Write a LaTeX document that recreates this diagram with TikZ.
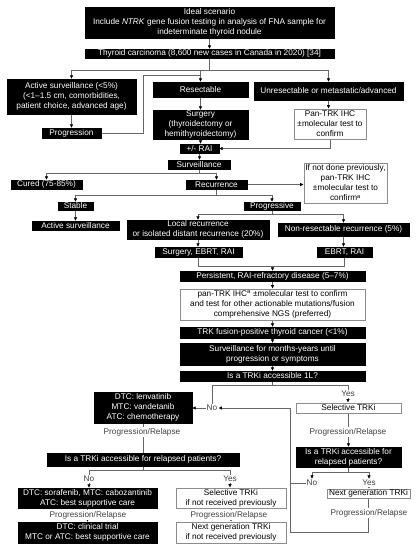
\documentclass[tikz,border=0pt]{standalone}
\usepackage{fontspec}
\setmainfont{Liberation Sans}
\usetikzlibrary{arrows.meta,backgrounds}
\newcommand\bx[7]{\node[#2,minimum width={(#4-#3)*1pt},minimum height={(#6-#5)*1pt}] (#1) at ({(#3+#4)/2},{(#5+#6)/2}) {#7};}
\newcommand\lb[4]{\node[lbl] (#1) at (#2,#3) {#4};}
\begin{document}
\begin{tikzpicture}[x=1pt,y=-1pt,font=\fontsize{8.25}{10}\selectfont,
  blk/.style={fill=black,draw=black,text=white,inner sep=0pt,align=center},
  wht/.style={fill=white,draw=black!45,line width=0.7pt,text=black,inner sep=0pt,align=center},
  lbl/.style={fill=white,text=black!75,inner sep=1pt},
  con/.style={draw=black!60,line width=0.6pt},
  arr/.style={con,-{Latex[length=3.5pt,width=3.5pt,color=black]}}]
\useasboundingbox (0,0) rectangle (418,550);
\bx{ideal}{blk}{85}{334}{7}{38}{Ideal scenario\\Include \textit{NTRK} gene fusion testing in analysis of FNA sample for\\indeterminate thyroid nodule}
\bx{thyroid}{blk}{85}{334}{49}{58}{Thyroid carcinoma (8,600 new cases in Canada in 2020) [34]}
\bx{active}{blk}{7}{136}{79}{114}{Active surveillance (<5\%)\\(<1–1.5 cm, comorbidities,\\patient choice, advanced age)}
\bx{resect}{blk}{153}{248}{82}{97}{Resectable}
\bx{unres}{blk}{254}{403}{82}{100}{Unresectable or metastatic/advanced}
\bx{prog}{blk}{42}{101}{128}{138}{Progression}
\bx{surg}{blk}{153}{248}{110}{139}{Surgery\\(thyroidectomy or\\hemithyroidectomy)}
\bx{pan1}{wht}{294}{366}{109}{139}{Pan-TRK IHC\\±molecular test to\\confirm}
\bx{rai}{blk}{180}{219}{144}{153}{+/- RAI}
\bx{surv}{blk}{168}{230}{160}{169}{Surveillance}
\bx{cured}{blk}{11}{82}{180}{189}{Cured (75-85\%)}
\bx{recur}{blk}{186}{247}{180}{189}{Recurrence}
\bx{notdone}{wht}{304}{387}{163}{203}{If not done previously,\\pan-TRK IHC\\±molecular test to\\confirm\textsuperscript{a}}
\bx{stable}{blk}{58}{93}{202}{210}{Stable}
\bx{progv}{blk}{244}{300}{202}{210}{Progressive}
\bx{active2}{blk}{32}{119}{221}{230}{Active surveillance}
\bx{local}{blk}{127}{269}{220}{239}{Local recurrence\\or isolated distant recurrence (20\%)}
\bx{nonres}{blk}{278}{409}{223}{236}{Non-resectable recurrence (5\%)}
\bx{surg2}{blk}{155}{242}{247}{257}{Surgery, EBRT, RAI}
\bx{ebrt}{blk}{317}{372}{247}{257}{EBRT, RAI}
\bx{persist}{blk}{180}{365}{271}{281}{Persistent, RAI-refractory disease (5–7\%)}
\bx{pan2}{wht}{180}{365}{289}{320}{pan-TRK IHC\textsuperscript{a} ±molecular test to confirm\\and test for other actionable mutations/fusion\\comprehensive NGS (preferred)}
\bx{trkfp}{blk}{180}{365}{327}{338}{TRK fusion-positive thyroid cancer (<1\%)}
\bx{survm}{blk}{180}{365}{343}{365}{Surveillance for months-years until\\progression or symptoms}
\bx{isfirst}{blk}{180}{365}{371}{381}{Is a TRKi accessible 1L?}
\bx{dtc1}{blk}{94}{192}{392}{423}{DTC: lenvatinib\\MTC: vandetanib\\ATC: chemotherapy}
\lb{no1}{212}{408}{No}
\lb{yes1}{348}{394}{Yes}
\bx{sel1}{wht}{296}{401}{403}{413}{Selective TRKi}
\bx{relr}{blk}{296}{401}{447}{467}{Is a TRKi accessible for\\relapsed patients?}
\lb{no2}{312}{483}{No}
\lb{yes2}{369}{483}{Yes}
\bx{nextr}{wht}{327}{410}{489}{498}{Next generation TRKi}
\bx{rell}{blk}{47}{239}{453}{466}{Is a TRKi accessible for relapsed patients?}
\lb{no3}{89}{479}{No}
\lb{yes3}{230}{479}{Yes}
\bx{dtc2}{blk}{18}{157}{488}{508}{DTC: sorafenib, MTC: cabozantinib\\ATC: best supportive care}
\bx{sel2}{wht}{176}{286}{488}{508}{Selective TRKi\\if not received previously}
\bx{dtc3}{blk}{18}{157}{522}{543}{DTC: clinical trial\\MTC or ATC: best supportive care}
\bx{next2}{wht}{176}{286}{522}{543}{Next generation TRKi\\if not received previously}
\lb{pr1}{142}{432}{Progression/Relapse}
\lb{pr2}{348}{432}{Progression/Relapse}
\lb{pr3}{369}{513}{Progression/Relapse}
\lb{pr4}{88}{515}{Progression/Relapse}
\lb{pr5}{229}{515}{Progression/Relapse}
\begin{scope}[on background layer]
\draw[arr] (ideal.south) -- (ideal.south |- thyroid.north);
\path (thyroid.south) ++(0,12) coordinate (j1);
\draw[con] (thyroid.south) -- (j1);
\draw[arr] (j1) -| (active.north);
\draw[arr] (j1) -| (resect.north);
\draw[arr] (j1) -| (unres.north);
\coordinate (pj) at (143,75);
\draw[con] (prog.east) -| (pj) -- (pj -| resect.north);
\draw[arr] (active.south) -- (active.south |- prog.north);
\draw[arr] (resect.south) -- (resect.south |- surg.north);
\draw[arr] (unres.south) -- (unres.south |- pan1.north);
\draw[arr] (surg.south) -- (surg.south |- rai.north);
\draw[arr] (pan1.south) |- (rai.east);
\draw[arr] (rai.south) -- (rai.south |- surv.north);
\path (surv.south) ++(0,4) coordinate (j2);
\draw[con] (surv.south) -- (j2);
\draw[arr] (j2) -| (cured.north);
\draw[arr] (j2) -| (recur.north);
\draw[arr] (recur.east) -- (recur.east -| notdone.west);
\path (recur.south) ++(0,6) coordinate (j3);
\draw[con] (recur.south) -- (j3);
\draw[arr] (j3) -| (stable.north);
\draw[arr] (j3) -| (progv.north);
\draw[arr] (stable.south) -- (stable.south |- active2.north);
\path (progv.south) ++(0,4) coordinate (j4);
\draw[con] (progv.south) -- (j4);
\draw[arr] (j4) -| (local.north);
\draw[arr] (j4) -| (nonres.north);
\draw[arr] (local.south) -- (local.south |- surg2.north);
\draw[arr] (nonres.south) -- (nonres.south |- ebrt.north);
\path (persist.north) ++(0,-5) coordinate (j5);
\draw[con] (surg2.south) |- (j5) -| (ebrt.south);
\draw[arr] (j5) -- (persist.north);
\draw[arr] (persist.south) -- (persist.south |- pan2.north);
\draw[arr] (pan2.south) -- (pan2.south |- trkfp.north);
\draw[arr] (trkfp.south) -- (trkfp.south |- survm.north);
\draw[arr] (survm.south) -- (survm.south |- isfirst.north);
\path (isfirst.south) ++(0,4) coordinate (j6);
\draw[con] (isfirst.south) -- (j6);
\draw[con] (j6) -| (no1.north);
\draw[con] (j6) -| (yes1.north);
\draw[arr] (yes1.south) -- (yes1.south |- sel1.north);
\draw[arr] (no1.west) -- (no1.west -| dtc1.east);
\coordinate (l1) at (290,532);
\draw[arr] (nextr.south) |- (l1) |- (no1.east);
\draw[con] (no2.west) -- (no2.west -| l1);
\draw[arr] (sel1.south) -- (sel1.south |- relr.north);
\path (relr.south) ++(0,5) coordinate (j7);
\draw[con] (relr.south) -- (j7);
\draw[arr] (j7) -| (no2.north);
\draw[arr] (j7) -| (yes2.north);
\draw[arr] (yes2.south) -- (yes2.south |- nextr.north);
\draw[con] (dtc1.south) -- (dtc1.south |- rell.north);
\path (rell.south) ++(0,4) coordinate (j8);
\draw[con] (rell.south) -- (j8);
\draw[con] (j8) -| (no3.north);
\draw[con] (j8) -| (yes3.north);
\draw[arr] (no3.south) -- (no3.south |- dtc2.north);
\draw[arr] (yes3.south) -- (yes3.south |- sel2.north);
\draw[arr] (dtc2.south) -- (dtc2.south |- dtc3.north);
\draw[arr] (sel2.south) -- (sel2.south |- next2.north);
\end{scope}
\end{tikzpicture}
\end{document}
